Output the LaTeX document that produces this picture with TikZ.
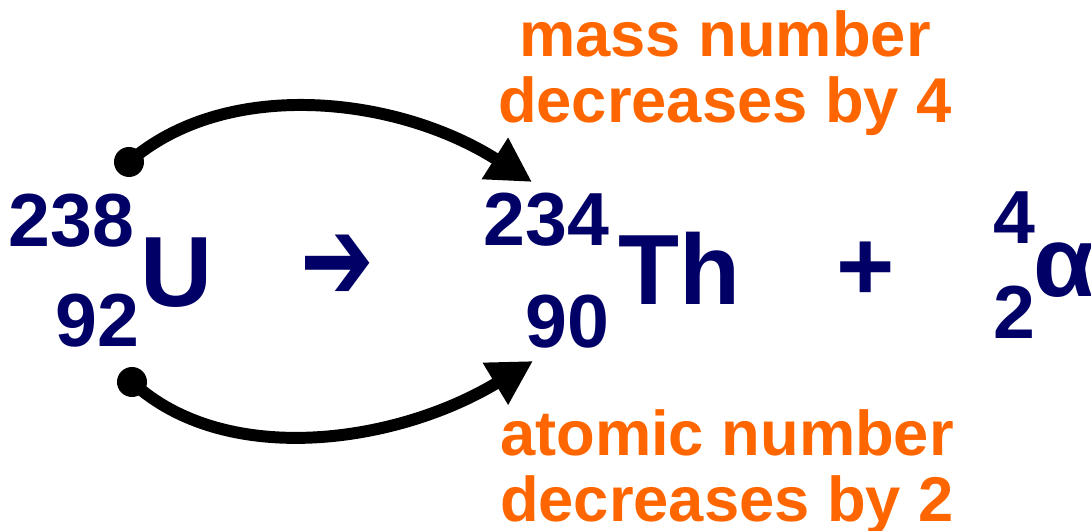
\documentclass[tikz,border=0pt]{standalone}
\usepackage{fontspec}
\setmainfont{Liberation Sans}
\newfontfamily\dingfont{DejaVu Sans}
\usetikzlibrary{arrows.meta}
\definecolor{nucnavy}{HTML}{000066}
\definecolor{decayorange}{HTML}{FF6600}

\begin{document}
\begin{tikzpicture}[
    x=0.01cm, y=-0.01cm,
    elem/.style={
      inner sep=0pt, text=nucnavy,
      font=\fontsize{28.4}{30}\selectfont\bfseries,
    },
    nucnum/.style={
      inner sep=0pt, text=nucnavy,
      font=\fontsize{21.4}{23}\selectfont\bfseries,
    },
    note/.style={
      inner sep=0pt, text=decayorange, align=center,
      font=\fontsize{18}{18.8}\selectfont\bfseries,
    },
    dot/.style={circle, fill=black, inner sep=0pt, minimum size=3mm},
    curvearr/.style={-{Triangle[length=4.4mm, width=4.6mm]}, line width=3.4pt, draw=black},
  ]
  \useasboundingbox (0,0) rectangle (1091,531);

  % ---- Uranium ----
  \node[nucnum, anchor=base east] (u238) at (135, 247) {238};
  \node[nucnum, anchor=base east] (u92)  at (140, 347) {92};
  \node[elem, anchor=base west]   (uel)  at (140, 307) {U};

  % ---- reaction arrow ----
  \node[inner sep=0pt, text=nucnavy, font=\dingfont\fontsize{25}{27}\selectfont\bfseries] (react) at (337, 268) {\scalebox{1}[1.35]{➔}};

  % ---- Thorium ----
  \node[nucnum, anchor=base east] (th234) at (610, 246) {234};
  \node[nucnum, anchor=base east] (th90)  at (610, 348) {90};
  \node[elem, anchor=base west]   (thel)  at (618, 305) {Th};

  % ---- plus alpha ----
  \node[elem] (plus) at (866, 271) {+};
  \node[nucnum, anchor=base west] (a4)  at (993, 244) {4};
  \node[nucnum, anchor=base west] (a2)  at (993, 339) {2};
  \node[elem, anchor=base west]   (ael) at (1033, 297) {α};

  % ---- labels ----
  \node[note, anchor=base] (massnote) at (725, 123) {mass number\\decreases by 4};
  \node[note, anchor=base] (atomnote) at (727, 522) {atomic number\\decreases by 2};

  % ---- curved arrows ----
  \node[dot] (dottop) at (129, 162) {};
  \node[dot] (dotbot) at (132, 382) {};
  \coordinate (tiptop) at (532, 182);
  \coordinate (tipbot) at (533, 361);

  \draw[curvearr] (dottop.center) .. controls (225, 78) and (395, 95) .. (tiptop);
  \draw[curvearr] (dotbot.center) .. controls (225, 468) and (396, 444) .. (tipbot);

\end{tikzpicture}
\end{document}
